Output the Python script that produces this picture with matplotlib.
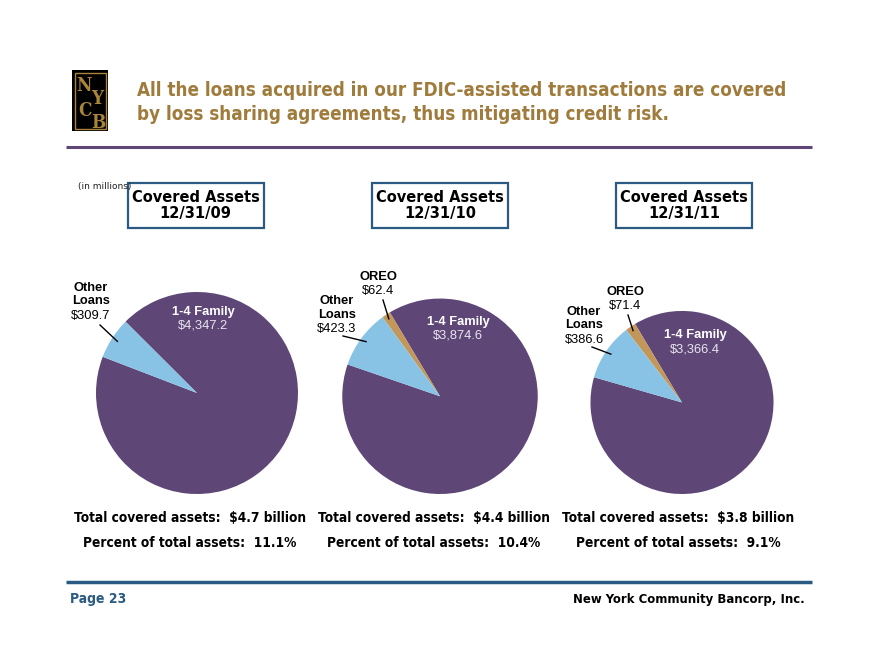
import numpy as np
import matplotlib
matplotlib.use("Agg")
import matplotlib.pyplot as plt
from matplotlib.patches import Rectangle

# ---------------- data ----------------
dates = ["12/31/09", "12/31/10", "12/31/11"]
family_vals = [4347.2, 3874.6, 3366.4]
other_vals = [309.7, 423.3, 386.6]
oreo_vals = [None, 62.4, 71.4]
total_billion = ["$4.7", "$4.4", "$3.8"]
pct_total = ["11.1%", "10.4%", "9.1%"]

title_lines = ["All the loans acquired in our FDIC-assisted transactions are covered",
               "by loss sharing agreements, thus mitigating credit risk."]

PURPLE = "#5e4777"
LBLUE = "#88c3e6"
TAN = "#c3975a"
GOLD = "#9f7b3c"
NAVY = "#2b5b82"

fig = plt.figure(figsize=(8.8, 6.6), dpi=100)

# pie axes (bottom layer)
pax = fig.add_axes([0, 0, 1, 1], zorder=1)

# annotation axes (top layer)
ax = fig.add_axes([0, 0, 1, 1], zorder=2)
ax.patch.set_alpha(0)
ax.set_xlim(0, 880)
ax.set_ylim(660, 0)
ax.axis("off")

HEAD = ["DejaVu Sans"]

# logo
ax.add_patch(Rectangle((72, 70), 36, 61, facecolor="black", edgecolor="none"))
ax.add_patch(Rectangle((74.5, 72.5), 31, 56, facecolor="none", edgecolor="#a8843c", lw=1.0))
for ch, (x, y) in zip("NYCB", [(84, 86), (97, 99), (85, 111), (98, 123)]):
    ax.text(x, y, ch, family="DejaVu Serif", color="#a8843c", fontsize=13.5,
            ha="center", va="center", fontweight="bold", fontstretch="condensed")

# title
ax.text(137, 90, title_lines[0], color=GOLD, fontsize=13.5, fontweight="bold",
        family=HEAD, ha="left", va="center", fontstretch="condensed")
ax.text(137, 115, title_lines[1], color=GOLD, fontsize=13.5, fontweight="bold",
        family=HEAD, ha="left", va="center", fontstretch="condensed")
ax.plot([66, 812], [147, 147], color=PURPLE, lw=2.2, solid_capstyle="butt")

ax.text(78, 186, "(in millions)", fontsize=6.5, color="#222222", family="DejaVu Sans",
        ha="left", va="center")

# footer
ax.plot([66, 812], [582, 582], color=NAVY, lw=2.5, solid_capstyle="butt")
ax.text(70, 599, "Page 23", color=NAVY, fontsize=10, fontweight="bold",
        family=HEAD, ha="left", va="center", fontstretch="condensed")
ax.text(805, 599, "New York Community Bancorp, Inc.", color="black", fontsize=9.4,
        fontweight="bold", family=HEAD, ha="right", va="center", fontstretch="condensed")

centers_x = [197, 440, 682]
box_cx = [195.5, 440, 684]
text_cx = [190, 434, 678]
start_angles = [159, 161, 164]
bottom = 494
r0 = 101
tot0 = family_vals[0] + other_vals[0]

# label layout (pixel positions)
other_lab = [(91, 288), (337, 301), (584, 312)]
other_line_start = [(100, 325), (343, 336), (592, 347)]
oreo_lab = [None, (378, 277), (625, 292)]
oreo_line_start = [None, (383, 300), (628, 315)]
fam_lab = [(203, 312), (458, 322), (695, 335)]

LBL = ["Liberation Sans", "DejaVu Sans"]

for i in range(3):
    vals = [family_vals[i], other_vals[i]] if oreo_vals[i] is None else \
        [family_vals[i], oreo_vals[i], other_vals[i]]
    cols = [PURPLE, LBLUE] if oreo_vals[i] is None else [PURPLE, TAN, LBLUE]
    tot = sum(vals)
    r = r0 * np.sqrt(tot / tot0)
    cy = bottom - r
    cx = centers_x[i]
    wedges, _ = pax.pie(vals, colors=cols, startangle=start_angles[i],
                        radius=r, center=(cx, 660 - cy), counterclock=True,
                        wedgeprops=dict(linewidth=0))

    # Other loans label
    ox, oy = other_lab[i]
    ax.text(ox, oy, "Other", fontsize=9.3, fontweight="bold", family=LBL, ha="center", va="center")
    ax.text(ox, oy + 13.5, "Loans", fontsize=9.3, fontweight="bold", family=LBL, ha="center", va="center")
    ax.text(ox, oy + 28, f"${other_vals[i]:,.1f}", fontsize=9.3, family=LBL, ha="center", va="center")
    w = wedges[-1]
    mid = np.deg2rad((w.theta1 + w.theta2) / 2)
    tip = (cx + 0.94 * r * np.cos(mid), cy - 0.94 * r * np.sin(mid))
    s = other_line_start[i]
    ax.plot([s[0], tip[0]], [s[1], tip[1]], color="black", lw=1.0, zorder=5)

    if oreo_vals[i] is not None:
        qx, qy = oreo_lab[i]
        ax.text(qx, qy, "OREO", fontsize=9.3, fontweight="bold", family=LBL, ha="center", va="center")
        ax.text(qx, qy + 14, f"${oreo_vals[i]:,.1f}", fontsize=9.3, family=LBL, ha="center", va="center")
        w = wedges[1]
        mid = np.deg2rad((w.theta1 + w.theta2) / 2)
        tip = (cx + 0.95 * r * np.cos(mid), cy - 0.95 * r * np.sin(mid))
        s = oreo_line_start[i]
        ax.plot([s[0], tip[0]], [s[1], tip[1]], color="black", lw=1.0, zorder=5)

    fx, fy = fam_lab[i]
    ax.text(fx, fy, "1-4 Family", fontsize=9.3, fontweight="bold", color="white", family=LBL,
            ha="center", va="center", zorder=6)
    ax.text(fx, fy + 14, f"${family_vals[i]:,.1f}", fontsize=9.3, color="#e8e4ee", family=LBL,
            ha="center", va="center", zorder=6)

    # header box
    bx = box_cx[i]
    ax.add_patch(Rectangle((bx - 68, 183), 136, 45, facecolor="white", edgecolor=NAVY, lw=1.6))
    ax.text(bx, 197, "Covered Assets", fontsize=10.5, fontweight="bold", family=HEAD,
            ha="center", va="center")
    ax.text(bx, 213.5, dates[i], fontsize=10.5, fontweight="bold", family=HEAD,
            ha="center", va="center")

    # totals
    tx = text_cx[i]
    ax.text(tx, 518, f"Total covered assets:  {total_billion[i]} billion", fontsize=9.8,
            fontweight="bold", family=HEAD, ha="center", va="center", fontstretch="condensed")
    ax.text(tx, 543, f"Percent of total assets:  {pct_total[i]}", fontsize=9.8,
            fontweight="bold", family=HEAD, ha="center", va="center", fontstretch="condensed")

pax.set_xlim(0, 880)
pax.set_ylim(0, 660)
pax.set_aspect("auto")
pax.axis("off")

fig.savefig("out.png", dpi=100)
